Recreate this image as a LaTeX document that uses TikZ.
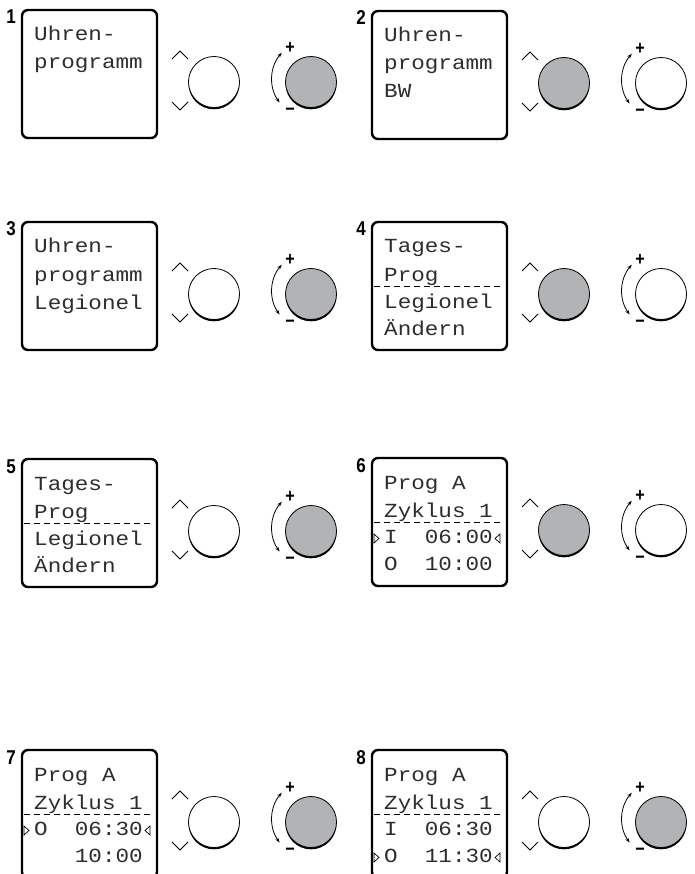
\documentclass[tikz,border=0pt]{standalone}
\usepackage{fontspec}
\setmainfont{Liberation Sans}
\newfontfamily\lcdfont[FakeStretch=1.13]{Liberation Mono}
\newfontfamily\numfont[FakeStretch=0.85]{Liberation Sans}
\usetikzlibrary{arrows.meta}
\definecolor{knobgray}{RGB}{178,179,181}
\definecolor{lcdtext}{RGB}{45,45,45}
\tikzset{
 lcdbox/.style={draw, line width=2.4pt, rounded corners=6pt, minimum width=135pt, minimum height=128pt, inner sep=0pt, outer sep=0pt},
 lcd/.style={font=\lcdfont\fontsize{20}{20}\selectfont, text=lcdtext, inner sep=0pt, anchor=base west},
 numlabel/.style={font=\fontsize{20}{20}\numfont\bfseries, inner sep=0pt, anchor=base east},
 knob/.style={circle, draw, line width=0.8pt, minimum size=51pt, inner sep=0pt},
 chev/.style={line width=0.8pt, line join=miter},
 turn/.style={line width=0.8pt, {Stealth[length=5pt,width=3.5pt]}-{Stealth[length=5pt,width=3.5pt]}},
 pm/.style={font=\fontsize{19}{19}\numfont\bfseries, inner sep=0pt},
 sepline/.style={line width=1pt, dash pattern=on 6pt off 4pt},
 tri/.style={line width=0.7pt, line join=miter},
}
\newcommand{\blk}{\hphantom{0}}
\newcommand{\dpanel}[5]{%
 \node[lcdbox, anchor=north west] (box#1) at (#2,-#3) {};
 \node[numlabel] (num#1) at ([xshift=-6pt,yshift=-14pt]box#1.north west) {#1};
 \coordinate (cl#1) at ([xshift=192pt,yshift=-72pt]box#1.north west);
 \coordinate (cr#1) at ([xshift=289pt,yshift=-72pt]box#1.north west);
 \coordinate (ca#1) at ([xshift=290pt,yshift=-69pt]box#1.north west);
 \fill ([yshift=-1.8pt]cl#1) circle[radius=25.5pt];
 \fill ([yshift=-1.8pt]cr#1) circle[radius=25.5pt];
 \node[knob, fill=#4] (kl#1) at (cl#1) {};
 \node[knob, fill=#5] (kr#1) at (cr#1) {};
 \draw[chev] ([shift={(-42pt,23pt)}]cl#1) -- ([shift={(-34pt,31pt)}]cl#1) -- ([shift={(-26pt,23pt)}]cl#1);
 \draw[chev] ([shift={(-42pt,-20pt)}]cl#1) -- ([shift={(-34pt,-28pt)}]cl#1) -- ([shift={(-26pt,-20pt)}]cl#1);
 \draw[turn] ([shift={(139:40pt)}]ca#1) arc[start angle=139, end angle=216, radius=40pt];
 \node[pm] (plus#1) at ([shift={(-21pt,34pt)}]cr#1) {+};
 \node[pm] (minus#1) at ([shift={(-21pt,-29.5pt)}]cr#1) {−};
}
\newcommand{\lline}[4]{\node[lcd] (#1) at ([xshift=12pt,yshift=-#3pt]#2.north west) {#4};}
\newcommand{\dashsep}[1]{\draw[sepline] ([shift={(2pt,-64pt)}]box#1.north west) -- ([shift={(-5pt,-64pt)}]box#1.north east);}
\newcommand{\ltri}[2]{\draw[tri] ([shift={(2pt,-#2pt)}]box#1.north west) -- ++(5pt,4.5pt) -- ++(-5pt,4.5pt) -- cycle;}
\newcommand{\rtri}[2]{\draw[tri] ([shift={(128pt,-#2pt)}]box#1.north west) -- ++(-5pt,4.5pt) -- ++(5pt,4.5pt) -- cycle;}
\begin{document}
\begin{tikzpicture}[x=1pt,y=1pt]
\useasboundingbox (0,-874) rectangle (694,0);
\fill[white] (0,-874) rectangle (694,0);
\dpanel{1}{22}{10}{white}{knobgray}
\dpanel{2}{372}{11}{knobgray}{white}
\dpanel{3}{22}{222}{white}{knobgray}
\dpanel{4}{372}{222}{knobgray}{white}
\dpanel{5}{22}{459}{white}{knobgray}
\dpanel{6}{372}{458}{knobgray}{white}
\dpanel{7}{22}{750}{white}{knobgray}
\dpanel{8}{372}{750}{white}{knobgray}
% panel 1
\lline{t1a}{box1}{31}{Uhren-}
\lline{t1b}{box1}{59}{programm}
% panel 2
\lline{t2a}{box2}{31}{Uhren-}
\lline{t2b}{box2}{59}{programm}
\lline{t2c}{box2}{87}{BW}
% panel 3
\lline{t3a}{box3}{31}{Uhren-}
\lline{t3b}{box3}{59}{programm}
\lline{t3c}{box3}{87}{Legionel}
% panel 4
\lline{t4a}{box4}{31}{Tages-}
\lline{t4b}{box4}{59}{Prog}
\dashsep{4}
\lline{t4c}{box4}{86}{Legionel}
\lline{t4d}{box4}{113}{Ändern}
% panel 5
\lline{t5a}{box5}{31}{Tages-}
\lline{t5b}{box5}{59}{Prog}
\dashsep{5}
\lline{t5c}{box5}{86}{Legionel}
\lline{t5d}{box5}{113}{Ändern}
% panel 6
\lline{t6a}{box6}{31}{Prog\blk A}
\lline{t6b}{box6}{59}{Zyklus\blk 1}
\dashsep{6}
\lline{t6c}{box6}{85}{I\blk\blk 06:00}
\lline{t6d}{box6}{112}{O\blk\blk 10:00}
\ltri{6}{85}\rtri{6}{85}
% panel 7
\lline{t7a}{box7}{31}{Prog\blk A}
\lline{t7b}{box7}{59}{Zyklus\blk 1}
\dashsep{7}
\lline{t7c}{box7}{85}{O\blk\blk 06:30}
\lline{t7d}{box7}{112}{\blk\blk\blk 10:00}
\ltri{7}{85}\rtri{7}{85}
% panel 8
\lline{t8a}{box8}{31}{Prog\blk A}
\lline{t8b}{box8}{59}{Zyklus\blk 1}
\dashsep{8}
\lline{t8c}{box8}{85}{I\blk\blk 06:30}
\lline{t8d}{box8}{112}{O\blk\blk 11:30}
\ltri{8}{112}\rtri{8}{112}
\end{tikzpicture}
\end{document}
